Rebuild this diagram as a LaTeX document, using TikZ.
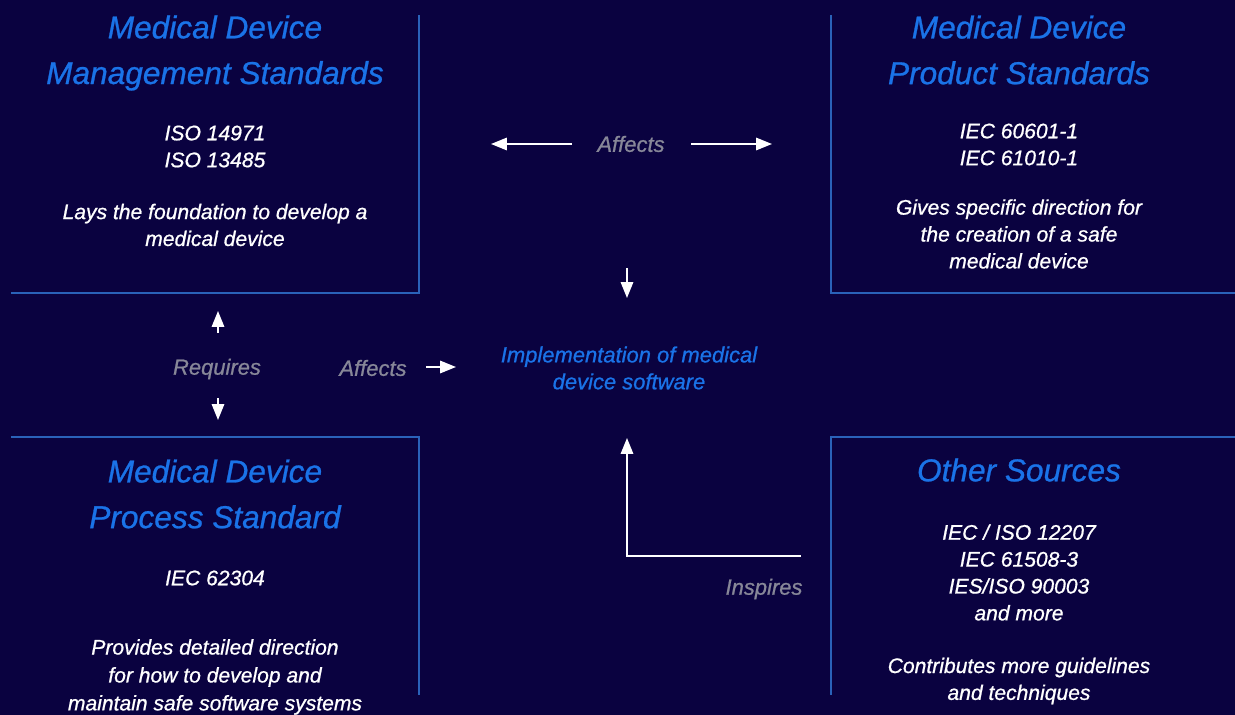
\documentclass[tikz,border=0pt]{standalone}
\usepackage{fontspec}
\setmainfont{Liberation Sans}[ItalicFeatures={FakeBold=0.8}]
\usetikzlibrary{arrows.meta}
\definecolor{bgnavy}{RGB}{10,2,64}
\definecolor{rulblue}{RGB}{42,98,185}
\definecolor{headblue}{RGB}{26,115,232}
\definecolor{labgray}{RGB}{135,135,152}
\tikzset{
	frame/.style={rulblue, line width=1pt},
	head/.style={headblue, font=\fontsize{18}{26}\selectfont\itshape, align=center},
	body/.style={white, font=\fontsize{12}{15.3}\selectfont\itshape, align=center},
	tag/.style={labgray, font=\fontsize{12.5}{15}\selectfont\itshape},
	arr/.style={white, line width=1.1pt, -{Triangle[length=9pt,width=7pt]}},
}
\begin{document}
\begin{tikzpicture}[x=0.02cm, y=-0.02cm]
		\fill[bgnavy] (0,0) rectangle (1235,715);
		\useasboundingbox (0,0) rectangle (1235,715);
		% frames
		\draw[frame] (11,293) -- (419,293) -- (419,15);
		\draw[frame] (831,15) -- (831,293) -- (1235,293);
		\draw[frame] (11,437) -- (419,437) -- (419,695);
		\draw[frame] (1235,437) -- (831,437) -- (831,695);
		% management
		\node[head] (mgmt) at (215,53) {Medical Device\\Management Standards};
		\node[body] (mgmtiso) at (215,146.5) {ISO 14971\\ISO 13485};
		\node[body] (mgmtdesc) at (215,225) {Lays the foundation to develop a\\medical device};
		% product
		\node[head] (prod) at (1019,50) {Medical Device\\Product Standards};
		\node[body] (prodiec) at (1019,144.5) {IEC 60601-1\\IEC 61010-1};
		\node[body] (proddesc) at (1019,234) {Gives specific direction for\\the creation of a safe\\medical device};
		% process
		\node[head] (proc) at (215,494) {Medical Device\\Process Standard};
		\node[body] (prociec) at (215,578) {IEC 62304};
		\node[body, font=\fontsize{12}{15.9}\selectfont\itshape] (procdesc) at (215,677) {Provides detailed direction\\for how to develop and\\maintain safe software systems};
		% other
		\node[head] (other) at (1019,470) {Other Sources};
		\node[body] (otheriso) at (1019,572.5) {IEC / ISO 12207\\IEC 61508-3\\IES/ISO 90003\\and more};
		\node[body] (otherdesc) at (1019,681) {Contributes more guidelines\\and techniques};
		% centre
		\node[headblue, font=\fontsize{12.5}{15.3}\selectfont\itshape, align=center] (impl) at (629,368) {Implementation of medical\\device software};
		% labels
		\node[tag] (afftop) at (631,144) {Affects};
		\node[tag] (req) at (217,369) {Requires};
		\node[tag] (affleft) at (373,368) {Affects};
		\node[tag] (insp) at (764,589) {Inspires};
		% arrow ends
		\coordinate (al0) at (572,144);
		\coordinate (al1) at (491,144);
		\coordinate (ar0) at (691,144);
		\coordinate (ar1) at (772,144);
		\coordinate (dn0) at (627,268);
		\coordinate (dn1) at (627,298);
		\coordinate (ru0) at (218,333);
		\coordinate (ru1) at (218,311);
		\coordinate (rd0) at (218,398);
		\coordinate (rd1) at (218,420);
		\coordinate (ah0) at (426,367);
		\coordinate (ah1) at (456,367);
		\coordinate (in0) at (801,556);
		\coordinate (in1) at (627,438);
		\draw[arr] (al0) -- (al1);
		\draw[arr] (ar0) -- (ar1);
		\draw[arr] (dn0) -- (dn1);
		\draw[arr] (ru0) -- (ru1);
		\draw[arr] (rd0) -- (rd1);
		\draw[arr] (ah0) -- (ah1);
		\draw[arr] (in0) -| (in1);
	\end{tikzpicture}
\end{document}
